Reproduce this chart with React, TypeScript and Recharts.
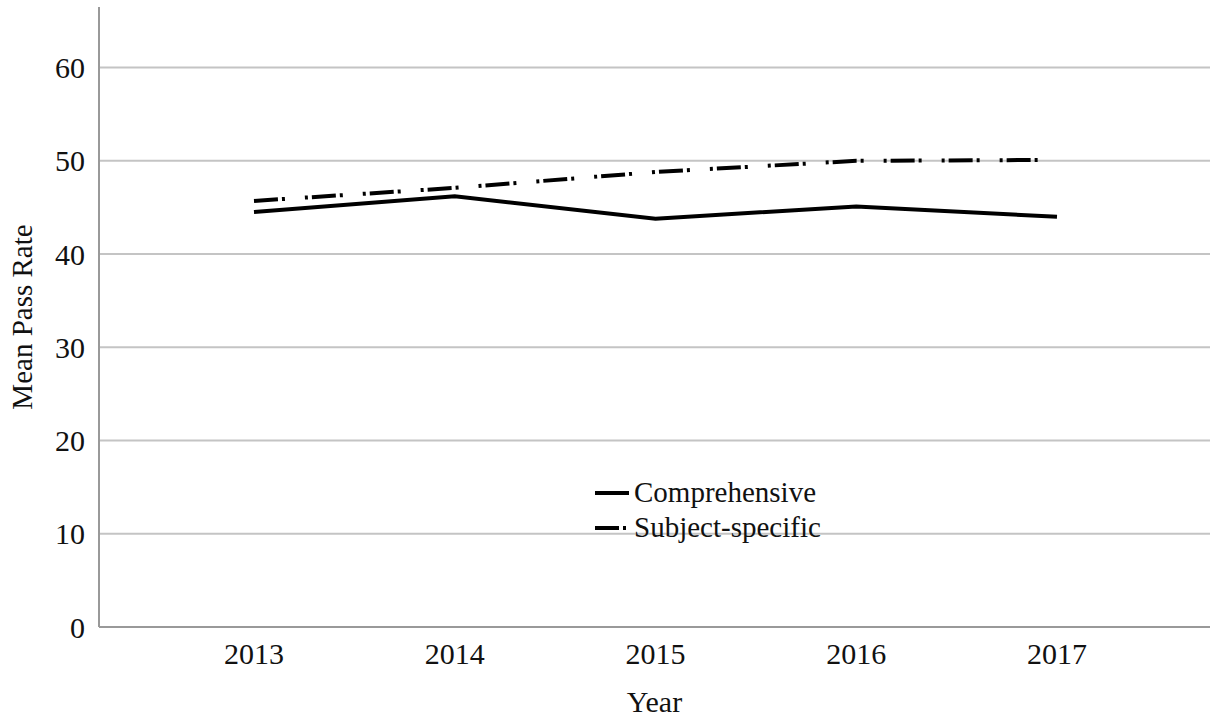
import { CartesianGrid, Line, LineChart, XAxis, YAxis } from "recharts";

const years = ["2013", "2014", "2015", "2016", "2017"];
const comprehensive = [44.5, 46.2, 43.8, 45.1, 44.0];
const subjectSpecific = [45.7, 47.1, 48.8, 50.0, 50.1];
const yTicks = [0, 10, 20, 30, 40, 50, 60];

const data = years.map((year, i) => ({
  year,
  comprehensive: comprehensive[i],
  subjectSpecific: subjectSpecific[i],
}));

const FONT = '"Liberation Serif", "Times New Roman", serif';
const DASH_DOT = "24 4 3 20 3 4";

// legend sits inside the plot area, like the SPSS output
function LegendBox() {
  const rows = [
    { label: "Comprehensive", dash: undefined },
    { label: "Subject-specific", dash: "24 4 3 20" },
  ];
  return (
    <div
      style={{
        position: "absolute",
        left: 593,
        top: 475,
        fontFamily: FONT,
        fontSize: 29,
        color: "#111",
        lineHeight: "35px",
      }}
    >
      {rows.map((row) => (
        <div key={row.label} style={{ display: "flex", alignItems: "center" }}>
          <svg width={38} height={10} style={{ marginRight: 3 }}>
            <line
              x1={2}
              y1={5}
              x2={36}
              y2={5}
              stroke="#000"
              strokeWidth={4}
              strokeDasharray={row.dash}
            />
          </svg>
          <span>{row.label}</span>
        </div>
      ))}
    </div>
  );
}

export default function App() {
  return (
    <div style={{ position: "fixed", left: 0, top: 0, background: "#fff" }}>
      <LineChart
        width={1210}
        height={721}
        data={data}
        margin={{ top: 7, right: 0, bottom: 0, left: 0 }}
      >
        <CartesianGrid
          vertical={false}
          horizontalValues={yTicks}
          stroke="#c4c4c4"
          strokeWidth={2}
        />
        <XAxis
          dataKey="year"
          padding={{ left: 155, right: 153 }}
          height={94}
          tickLine={false}
          stroke="#999"
          strokeWidth={2}
          tick={{ fill: "#111", fontSize: 30, fontFamily: FONT }}
          tickMargin={10}
          label={{
            value: "Year",
            position: "insideBottom",
            offset: 9,
            fill: "#111",
            fontSize: 30,
            fontFamily: FONT,
          }}
        />
        <YAxis
          domain={[0, 66.5]}
          ticks={yTicks}
          width={99}
          tickLine={false}
          stroke="#999"
          strokeWidth={2}
          tick={{ fill: "#111", fontSize: 30, fontFamily: FONT }}
          tickMargin={8}
          label={{
            value: "Mean Pass Rate",
            angle: -90,
            position: "insideLeft",
            offset: 22,
            style: { textAnchor: "middle" },
            fill: "#111",
            fontSize: 29,
            fontFamily: FONT,
          }}
        />
        <Line
          dataKey="comprehensive"
          stroke="#000"
          strokeWidth={4}
          dot={false}
          isAnimationActive={false}
        />
        <Line
          dataKey="subjectSpecific"
          stroke="#000"
          strokeWidth={4}
          strokeDasharray={DASH_DOT}
          dot={false}
          isAnimationActive={false}
        />
      </LineChart>
      <LegendBox />
    </div>
  );
}
